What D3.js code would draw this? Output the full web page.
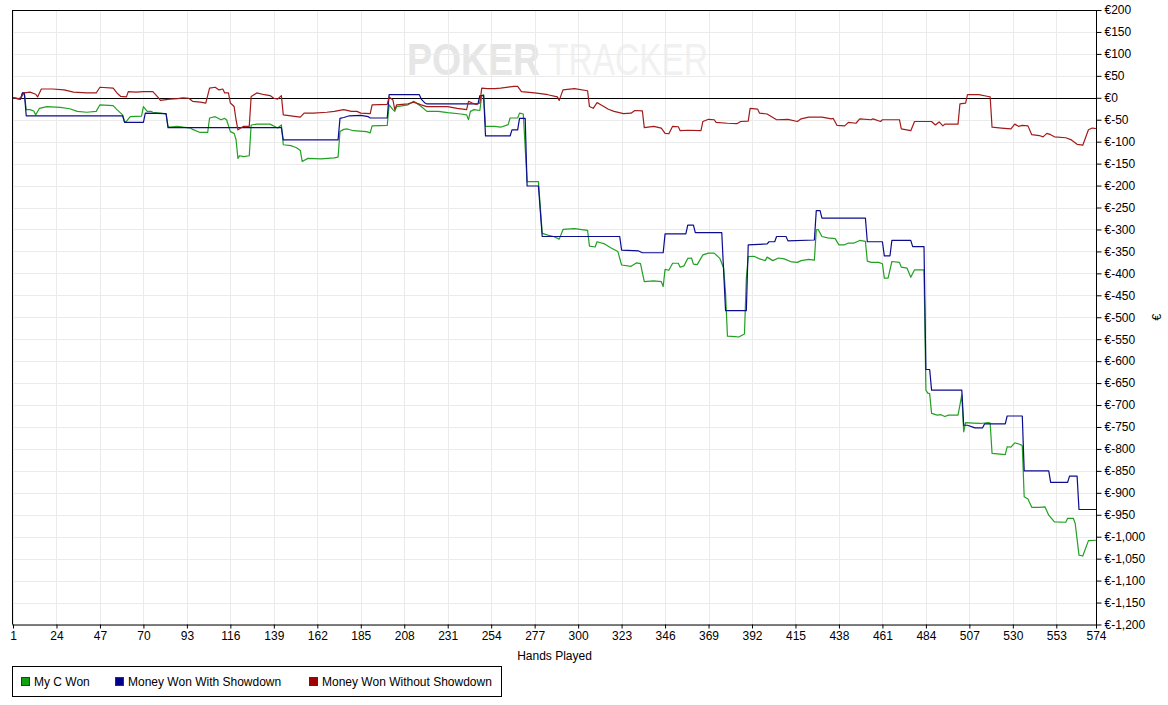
<!DOCTYPE html>
<html>
<head>
<meta charset="utf-8">
<script src="https://cdn.jsdelivr.net/npm/d3@7"></script>
<style>
  body { margin: 0; background: #fff; }
  text { font-family: "Liberation Sans", Arial, sans-serif; font-size: 12px; fill: #000; }
</style>
</head>
<body>
<script>
const width = 1168;
const height = 705;

// [hand, euros] at the points where a line turns
const myCWon = [
  [1,0],[5,-3],[6,11],[7,11],[8,-27],[10,-27],[12,-30],[13,-39],[15,-24],[19,-20],[26,-22],[31,-25],[35,-31],[40,-33],[45,-31],
  [47,-16],[54,-18],[56,-27],[59,-39],[60,-54],[61,-54],[63,-43],[69,-42],[70,-20],[72,-31],[74,-31],[75,-33],[79,-35],[82,-37],
  [83,-65],[84,-67],[88,-65],[91,-67],[95,-69],[96,-72],[100,-79],[104,-79],[105,-46],[108,-43],[111,-50],[113,-47],[114,-50],
  [116,-77],[118,-81],[119,-95],[120,-138],[121,-132],[123,-134],[126,-132],[127,-62],[130,-60],[134,-60],[137,-60],
  [141,-69],[143,-62],[144,-107],[148,-109],[150,-112],[151,-114],[153,-120],[154,-145],[157,-138],[164,-139],[171,-137],[173,-135],
  [174,-77],[176,-72],[178,-71],[181,-75],[188,-77],[190,-80],[191,-64],[199,-63],[200,-16],[202,-27],[203,-31],[204,-20],
  [210,-16],[213,-8],[217,-20],[220,-31],[226,-31],[231,-34],[238,-37],[241,-39],[242,-50],[243,-31],[245,-27],[248,-29],
  [249,5],[250,7],[251,-65],[256,-65],[259,-67],[263,-61],[264,-46],[268,-46],[269,-35],[271,-37],
  [273,-191],[279,-191],[281,-309],[284,-313],[287,-316],[290,-322],[292,-300],[298,-298],[305,-302],[306,-338],[309,-340],
  [310,-328],[314,-333],[317,-341],[321,-350],[323,-381],[328,-384],[331,-376],[333,-378],[335,-419],[340,-417],[344,-419],
  [345,-430],[346,-391],[348,-393],[350,-377],[353,-377],[354,-386],[356,-383],[358,-366],[360,-365],[361,-379],[363,-380],
  [366,-358],[369,-354],[372,-354],[375,-366],[377,-388],[378,-445],[379,-543],[383,-544],[385,-545],[388,-538],[389,-411],
  [390,-362],[393,-361],[396,-367],[399,-371],[400,-363],[403,-371],[406,-365],[409,-367],[413,-374],[416,-375],[418,-371],
  [422,-368],[425,-370],[426,-301],[427,-300],[429,-316],[432,-319],[436,-321],[438,-335],[441,-335],[443,-331],[446,-331],
  [449,-325],[452,-327],[453,-372],[455,-375],[459,-375],[461,-378],[462,-411],[464,-411],[466,-373],[470,-375],[471,-386],
  [474,-388],[476,-409],[478,-392],[483,-392],[484,-666],[485,-673],[486,-674],[487,-719],[490,-723],[492,-722],[494,-726],
  [496,-723],[501,-723],[503,-677],[504,-761],[505,-740],[509,-741],[513,-742],[517,-740],[518,-741],[519,-810],[526,-813],
  [527,-795],[529,-796],[531,-786],[534,-790],[535,-793],[536,-909],[538,-914],[540,-933],[544,-933],[547,-932],[549,-951],
  [552,-966],[558,-967],[559,-958],[562,-958],[563,-970],[565,-1042],[567,-1044],[570,-1009],[574,-1008]
];

const wonWithShowdown = [
  [1,0],[5,-3],[6,11],[7,11],[8,-41],[59,-41],[60,-56],[70,-56],[71,-35],[82,-36],[83,-68],[143,-68],[144,-96],[173,-96],
  [174,-47],[176,-45],[179,-41],[185,-40],[189,-43],[190,-46],[199,-46],[200,7],[216,7],[217,-3],[219,-12],[220,-14],
  [247,-14],[248,5],[250,5],[251,-87],[264,-87],[265,-73],[268,-73],[269,-47],[272,-47],[273,-201],[279,-201],[281,-316],
  [322,-316],[323,-347],[332,-349],[334,-353],[345,-353],[346,-310],[357,-310],[358,-290],[361,-290],[362,-307],[376,-307],
  [378,-485],[389,-485],[390,-335],[400,-333],[401,-328],[404,-328],[405,-316],[410,-316],[411,-326],[425,-324],[426,-257],
  [428,-257],[429,-274],[452,-274],[453,-328],[461,-328],[462,-360],[465,-360],[466,-325],[476,-325],[477,-339],[483,-339],
  [484,-619],[486,-619],[487,-666],[503,-666],[504,-746],[506,-746],[510,-752],[514,-752],[515,-743],[526,-743],[527,-725],
  [535,-725],[536,-850],[549,-850],[550,-876],[559,-876],[560,-862],[564,-862],[565,-938],[574,-938]
];

const wonWithoutShowdown = [
  [1,0],[4,-2],[5,0],[7,11],[10,13],[13,8],[14,2],[16,20],[22,20],[28,18],[33,13],[40,11],[45,11],[47,24],[54,22],[56,11],
  [58,3],[61,2],[62,14],[66,13],[70,14],[75,14],[78,0],[79,-6],[84,-3],[88,-2],[91,0],[94,-1],[96,-8],[100,-10],[103,-12],
  [105,22],[108,24],[110,18],[112,20],[113,11],[115,11],[116,-12],[118,-20],[119,-50],[120,-73],[123,-65],[126,-65],[127,3],
  [130,11],[134,7],[137,5],[139,-1],[141,-3],[143,5],[144,-39],[148,-41],[153,-44],[155,-35],[160,-35],[167,-33],[171,-31],
  [176,-27],[180,-31],[183,-31],[185,-35],[190,-36],[191,-16],[199,-15],[200,2],[202,-5],[203,-27],[204,-16],[210,-14],
  [213,-10],[217,-16],[220,-20],[231,-20],[236,-24],[241,-27],[242,-8],[244,-12],[246,-15],[248,-12],[249,22],[252,21],
  [256,21],[259,22],[266,26],[268,26],[270,14],[277,11],[284,7],[289,2],[290,-6],[292,18],[298,21],[305,16],[306,-20],
  [308,-24],[310,-11],[312,-16],[316,-26],[319,-31],[324,-36],[328,-35],[330,-29],[334,-30],[335,-68],[340,-65],[344,-69],
  [346,-81],[348,-82],[350,-65],[353,-66],[354,-75],[358,-74],[365,-75],[366,-54],[369,-49],[372,-50],[373,-56],[379,-58],
  [384,-59],[386,-54],[390,-53],[391,-24],[395,-26],[396,-35],[400,-37],[405,-50],[411,-49],[416,-54],[418,-48],[422,-44],
  [429,-44],[434,-48],[435,-47],[437,-63],[441,-64],[443,-56],[447,-58],[449,-48],[455,-50],[456,-48],[460,-54],[461,-50],
  [470,-50],[471,-71],[476,-75],[478,-54],[487,-54],[489,-62],[491,-55],[493,-64],[494,-60],[501,-60],[502,-14],[505,-12],
  [506,7],[512,7],[517,3],[518,2],[519,-67],[524,-69],[529,-71],[531,-60],[533,-65],[535,-63],[538,-64],[540,-84],[544,-86],
  [546,-89],[548,-81],[550,-84],[552,-89],[558,-91],[561,-96],[564,-106],[567,-108],[570,-73],[572,-69],[574,-70]
];

const xTicks = [1, 24, 47, 70, 93, 116, 139, 162, 185, 208, 231, 254, 277, 300, 323, 346, 369, 392, 415, 438, 461, 484, 507, 530, 553, 574];
const yTicks = d3.range(-1200, 201, 50);

const seriesNames = ["My C Won", "Money Won With Showdown", "Money Won Without Showdown"];
const seriesData = [myCWon, wonWithShowdown, wonWithoutShowdown];
const lineColors = ["#22a022", "#0c0c8e", "#a31a1a"];
const swatchColors = ["#10a010", "#00008c", "#a00000"];

const plot = { left: 12.5, right: 1096.5, top: 10, bottom: 624.5 };

const svg = d3.select("body").append("svg")
    .attr("width", width)
    .attr("height", height);

const x = d3.scaleLinear().domain([1, 574]).range([plot.left + 0.5, plot.right - 0.5]);
const y = d3.scaleLinear().domain([-1200, 200]).range([plot.bottom, plot.top]);

// watermark: each word squeezed sideways to the width it has in the picture
function watermark(word, left, w, bold, fill) {
    const t = svg.append("text")
        .style("font-size", "45px")
        .style("font-weight", bold ? "bold" : "normal")
        .style("fill", fill)
        .text(word);
    const sx = w / t.node().getComputedTextLength();
    t.attr("transform", `translate(${left}, 75) scale(${sx}, 1)`);
}
watermark("POKER", 407, 133, true, "#e6e6e6");
watermark("TRACKER", 548, 160, false, "#f1f1f1");

// grid
svg.append("g")
    .selectAll("line")
    .data(xTicks)
    .enter()
    .append("line")
    .attr("x1", d => Math.round(x(d)) + 0.5)
    .attr("x2", d => Math.round(x(d)) + 0.5)
    .attr("y1", plot.top)
    .attr("y2", plot.bottom)
    .style("stroke", "#ebebeb");

svg.append("g")
    .selectAll("line")
    .data(yTicks)
    .enter()
    .append("line")
    .attr("x1", plot.left)
    .attr("x2", plot.right)
    .attr("y1", d => Math.round(y(d)) + 0.5)
    .attr("y2", d => Math.round(y(d)) + 0.5)
    .style("stroke", "#ebebeb");

// frame
svg.append("line").attr("x1", plot.left).attr("x2", plot.left).attr("y1", plot.top).attr("y2", plot.bottom).style("stroke", "#000");
svg.append("line").attr("x1", plot.left).attr("x2", plot.right).attr("y1", plot.top + 0.5).attr("y2", plot.top + 0.5).style("stroke", "#000");

// zero line
svg.append("line")
    .attr("x1", plot.left)
    .attr("x2", plot.right)
    .attr("y1", Math.round(y(0)) + 0.5)
    .attr("y2", Math.round(y(0)) + 0.5)
    .style("stroke", "#000");

// lines
const line = d3.line()
    .x(d => x(d[0]))
    .y(d => y(d[1]));

svg.append("g")
    .selectAll("path")
    .data(seriesData)
    .enter()
    .append("path")
    .attr("d", line)
    .style("fill", "none")
    .style("stroke", (d, i) => lineColors[i])
    .style("stroke-width", 1.2)
    .style("stroke-linejoin", "round");

// axes
const xAxis = d3.axisBottom(x)
    .tickValues(xTicks)
    .tickSize(4)
    .tickPadding(3);

svg.append("g")
    .attr("transform", `translate(0, ${plot.bottom})`)
    .call(xAxis)
    .call(g => g.select(".domain").attr("d", `M${plot.left},0.5H${plot.right}`))
    .call(g => g.selectAll("text").style("font-size", "12px").style("font-family", "Liberation Sans, Arial, sans-serif"));

const euro = d => (d < 0 ? "€-" : "€") + d3.format(",")(Math.abs(d));

const yAxis = d3.axisRight(y)
    .tickValues(yTicks)
    .tickFormat(euro)
    .tickSize(5)
    .tickPadding(3);

svg.append("g")
    .attr("transform", `translate(${plot.right}, 0)`)
    .call(yAxis)
    .call(g => g.select(".domain").attr("d", `M0,${plot.top}V${plot.bottom + 0.5}`))
    .call(g => g.selectAll("text").style("font-size", "12px").style("font-family", "Liberation Sans, Arial, sans-serif"));

svg.append("text")
    .attr("x", (plot.left + plot.right) / 2)
    .attr("y", 660)
    .style("text-anchor", "middle")
    .text("Hands Played");

svg.append("text")
    .attr("transform", `translate(1161, ${(plot.top + plot.bottom) / 2}) rotate(-90)`)
    .style("text-anchor", "middle")
    .text("€");

// legend
const legend = svg.append("g").attr("class", "legend");

legend.append("rect")
    .attr("x", 12.5)
    .attr("y", 666.5)
    .attr("width", 489)
    .attr("height", 30)
    .style("fill", "#fff")
    .style("stroke", "#000");

const legendX = [21, 115, 309];

const item = legend.selectAll("g")
    .data(seriesNames)
    .enter()
    .append("g")
    .attr("transform", (d, i) => `translate(${legendX[i]}, 677)`);

item.append("rect")
    .attr("x", 0.5)
    .attr("y", 0.5)
    .attr("width", 8)
    .attr("height", 8)
    .style("fill", (d, i) => swatchColors[i])
    .style("stroke", "#333");

item.append("text")
    .attr("x", 13)
    .attr("y", 9)
    .text(d => d);
</script>
</body>
</html>
